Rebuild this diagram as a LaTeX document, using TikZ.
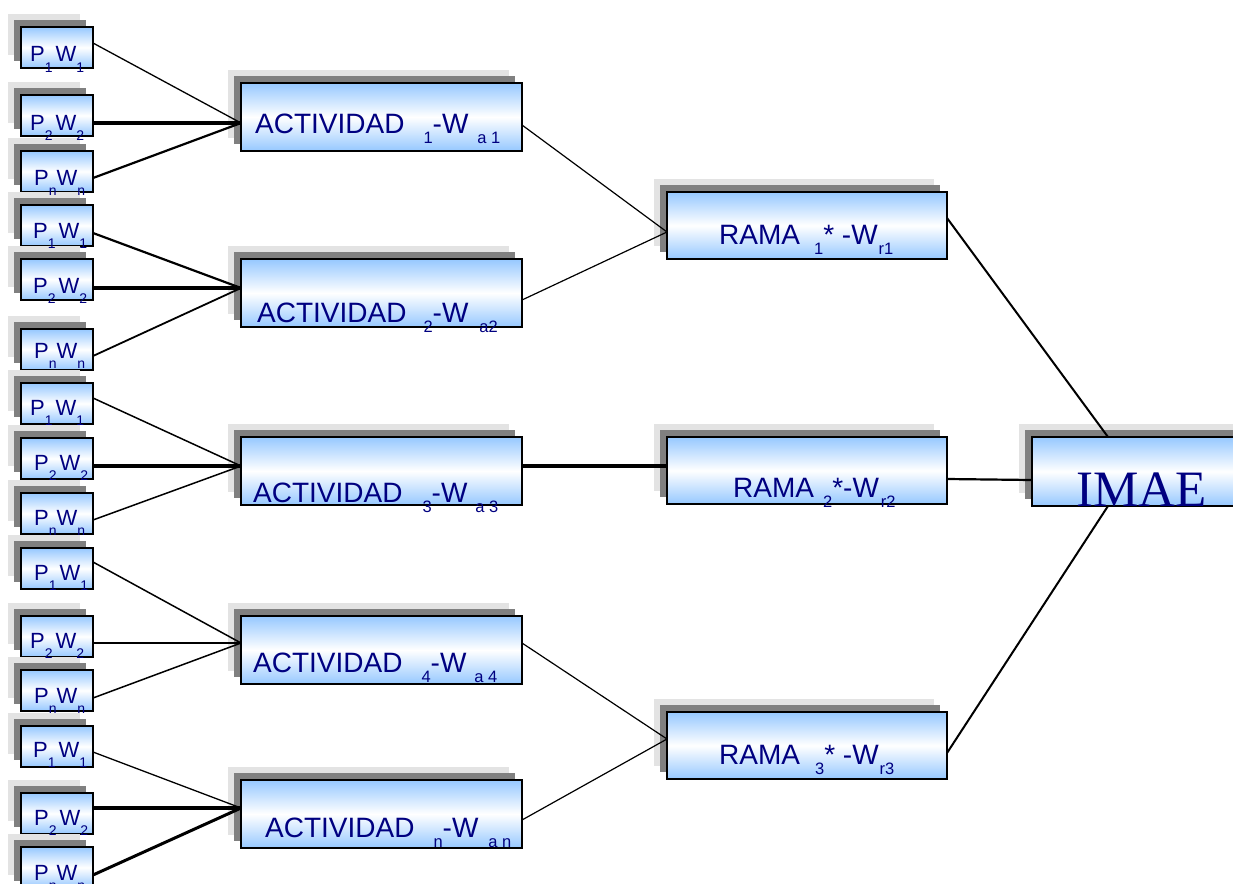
\documentclass[tikz,border=0pt]{standalone}
\usepackage{fontspec}
\setmainfont{Liberation Sans}
\newfontfamily\imaefont{Liberation Serif}
\usetikzlibrary{shadows,calc}
\definecolor{navy}{RGB}{0,0,128}
\definecolor{boxblue}{RGB}{150,200,255}
\definecolor{shdark}{RGB}{128,128,128}
\definecolor{shlight}{RGB}{227,227,227}
\newcommand{\lo}[1]{\raisebox{-10pt}{\fontsize{16.5}{16.5}\selectfont #1}}
\newcommand{\plo}[1]{\raisebox{-10pt}{\fontsize{14}{14}\selectfont #1}}
\begin{document}
\begin{tikzpicture}[x=1pt,y=-1pt,
  bx/.style={draw=black, line width=1.2pt, top color=boxblue, bottom color=boxblue,
    middle color=white, inner sep=0pt, outer sep=0pt, anchor=north west,
    general shadow={fill=shlight, shadow xshift=-13pt, shadow yshift=13pt},
    general shadow={fill=shdark, shadow xshift=-7pt, shadow yshift=7pt}},
  pbox/.style={bx, minimum width=72pt, minimum height=41pt},
  abox/.style={bx, minimum width=281pt, minimum height=68pt},
  rbox/.style={bx, minimum width=280pt, minimum height=67pt},
  ibox/.style={bx, minimum width=230pt, minimum height=69pt},
  ptxt/.style={anchor=base west, inner sep=0pt, text=navy, font=\fontsize{22}{22}\selectfont},
  btxt/.style={anchor=base west, inner sep=0pt, text=navy, font=\fontsize{28}{28}\selectfont},
  itxt/.style={anchor=base west, inner sep=0pt, text=navy, font=\imaefont\fontsize{51}{51}\selectfont},
  conn/.style={draw=black, line cap=butt}
]
\useasboundingbox (0,0) rectangle (1233,883);
\clip (0,0) rectangle (1233,883);

% P boxes
\node[pbox] (p11) at (21,27) {};
\node[pbox] (p12) at (21,95) {};
\node[pbox] (p13) at (21,151) {};
\node[pbox] (p21) at (21,205) {};
\node[pbox] (p22) at (21,259) {};
\node[pbox] (p23) at (21,329) {};
\node[pbox] (p31) at (21,383) {};
\node[pbox] (p32) at (21,438) {};
\node[pbox] (p33) at (21,493) {};
\node[pbox] (p41) at (21,548) {};
\node[pbox] (p42) at (21,616) {};
\node[pbox] (p43) at (21,670) {};
\node[pbox] (p51) at (21,726) {};
\node[pbox] (p52) at (21,793) {};
\node[pbox] (p53) at (21,847) {};

% activity boxes
\node[abox] (a1) at (241,83) {};
\node[abox] (a2) at (241,259) {};
\node[abox] (a3) at (241,437) {};
\node[abox] (a4) at (241,616) {};
\node[abox] (a5) at (241,780) {};

% rama boxes
\node[rbox] (r1) at (667,192) {};
\node[rbox] (r2) at (667,437) {};
\node[rbox] (r3) at (667,712) {};

% IMAE
\node[ibox] (imae) at (1032,437) {};

% P labels
\node[ptxt] (t11) at (30,62) {P\plo{1}\hspace{3pt}W\plo{1}};
\node[ptxt] (t12) at (30,130) {P\plo{2}\hspace{3pt}W\plo{2}};
\node[ptxt] (t13) at (34,185) {P\plo{n}W\plo{n}};
\node[ptxt] (t21) at (33,238) {P\plo{1}\hspace{3pt}W\plo{1}};
\node[ptxt] (t22) at (33,293) {P\plo{2}\hspace{3pt}W\plo{2}};
\node[ptxt] (t23) at (34,358) {P\plo{n}W\plo{n}};
\node[ptxt] (t31) at (30,415) {P\plo{1}\hspace{3pt}W\plo{1}};
\node[ptxt] (t32) at (34,470) {P\plo{2}\hspace{3pt}W\plo{2}};
\node[ptxt] (t33) at (34,525) {P\plo{n}W\plo{n}};
\node[ptxt] (t41) at (34,580) {P\plo{1}\hspace{3pt}W\plo{1}};
\node[ptxt] (t42) at (30,648) {P\plo{2}\hspace{3pt}W\plo{2}};
\node[ptxt] (t43) at (34,703) {P\plo{n}W\plo{n}};
\node[ptxt] (t51) at (33,757) {P\plo{1}\hspace{3pt}W\plo{1}};
\node[ptxt] (t52) at (34,825) {P\plo{2}\hspace{3pt}W\plo{2}};
\node[ptxt] (t53) at (34,880) {P\plo{n}W\plo{n}};

% activity labels
\node[btxt] (ta1) at (255,133) {ACTIVIDAD\hspace{19pt}\lo{1}-W\hspace{9pt}\lo{a 1}};
\node[btxt] (ta2) at (257,322) {ACTIVIDAD\hspace{17pt}\lo{2}-W\hspace{11pt}\lo{a2}};
\node[btxt] (ta3) at (253,502) {ACTIVIDAD\hspace{20pt}\lo{3}-W\hspace{8pt}\lo{a 3}};
\node[btxt] (ta4) at (253,672) {ACTIVIDAD\hspace{19pt}\lo{4}-W\hspace{8pt}\lo{a 4}};
\node[btxt] (ta5) at (265,837) {ACTIVIDAD\hspace{19pt}\lo{n}-W\hspace{10pt}\lo{a n}};

% rama labels
\node[btxt] (tr1) at (719,244) {RAMA\hspace{14pt}\lo{1}* -W\hspace{1pt}\lo{r1}};
\node[btxt] (tr2) at (733,497) {RAMA\hspace{9pt}\lo{2}*-W\hspace{2pt}\lo{r2}};
\node[btxt] (tr3) at (719,764) {RAMA\hspace{15pt}\lo{3}* -W\hspace{1pt}\lo{r3}};

% IMAE label
\node[itxt] (ti) at (1076,506) {IMAE};

% connectors P -> activity
\draw[conn, line width=1.3pt] (p11.east |- 0,43) -- (a1.west |- 0,123);
\draw[conn, line width=4pt] (p12.east |- 0,123) -- (a1.west |- 0,123);
\draw[conn, line width=2.2pt] (p13.east |- 0,178) -- (a1.west |- 0,123);

\draw[conn, line width=2.2pt] (p21.east |- 0,233) -- (a2.west |- 0,288);
\draw[conn, line width=4pt] (p22.east |- 0,288) -- (a2.west |- 0,288);
\draw[conn, line width=1.8pt] (p23.east |- 0,356) -- (a2.west |- 0,288);

\draw[conn, line width=1.5pt] (p31.east |- 0,398) -- (a3.west |- 0,466);
\draw[conn, line width=4pt] (p32.east |- 0,466) -- (a3.west |- 0,466);
\draw[conn, line width=1.5pt] (p33.east |- 0,520) -- (a3.west |- 0,466);

\draw[conn, line width=1.5pt] (p41.east |- 0,562) -- (a4.west |- 0,643);
\draw[conn, line width=2pt] (p42.east |- 0,643) -- (a4.west |- 0,643);
\draw[conn, line width=1.5pt] (p43.east |- 0,698) -- (a4.west |- 0,643);

\draw[conn, line width=1.3pt] (p51.east |- 0,752) -- (a5.west |- 0,808);
\draw[conn, line width=4pt] (p52.east |- 0,808) -- (a5.west |- 0,808);
\draw[conn, line width=3pt] (p53.east |- 0,875) -- (a5.west |- 0,808);

% activity -> rama
\draw[conn, line width=1.2pt] (a1.east |- 0,125) -- (r1.west |- 0,232);
\draw[conn, line width=1.2pt] (a2.east |- 0,300) -- (r1.west |- 0,232);
\draw[conn, line width=4pt] (a3.east |- 0,466) -- (r2.west |- 0,466);
\draw[conn, line width=1.2pt] (a4.east |- 0,643) -- (r3.west |- 0,739);
\draw[conn, line width=1.2pt] (a5.east |- 0,820) -- (r3.west |- 0,739);

% rama -> IMAE
\draw[conn, line width=2pt] (r1.east |- 0,218) -- (imae.north -| 1108,0);
\draw[conn, line width=2.2pt] (r2.east |- 0,479) -- (imae.west |- 0,480);
\draw[conn, line width=2pt] (r3.east |- 0,753) -- (imae.south -| 1108,0);
\end{tikzpicture}
\end{document}
